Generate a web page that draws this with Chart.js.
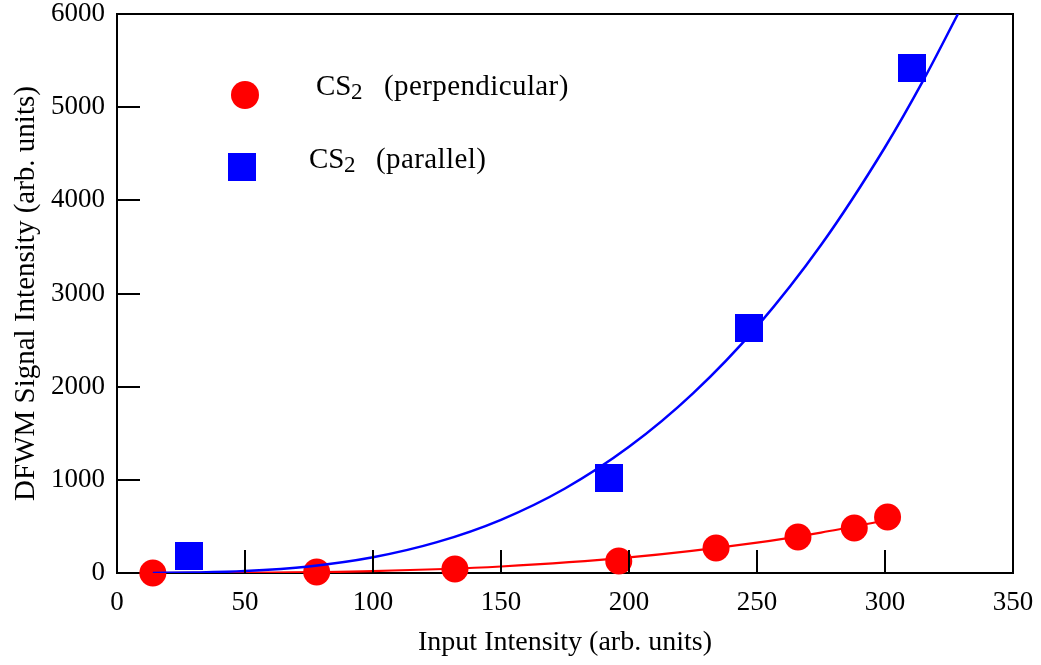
<!DOCTYPE html>
<html>
<head>
<meta charset="utf-8">
<title>DFWM signal vs input intensity</title>
<script src="https://cdn.jsdelivr.net/npm/chart.js@4"></script>
<style>
  html, body { margin: 0; padding: 0; background: #fff; }
  #wrap { width: 1041px; height: 665px; }
</style>
</head>
<body>
<div id="wrap"><canvas id="dfwmChart" width="1041" height="665"></canvas></div>
<script>
// measured points, CS2 perpendicular polarisation
const perpX = [14, 78, 132, 196, 234, 266, 288, 301];
const perpY = [0, 10, 43, 129, 268, 386, 483, 601];

// measured points, CS2 parallel polarisation
const paraX = [28, 192, 247, 310.5];
const paraY = [182, 1019, 2629, 5418];

// fitted curves
const perpFitX = [14, 50, 100, 150, 200, 250, 275, 301];
const perpFitY = [0, 3, 21, 70, 167, 326, 434, 569];
const paraFitX = [14, 30, 50, 75, 100, 125, 150, 175, 200, 225, 250, 275, 300, 315, 328.5];
const paraFitY = [0, 5, 21, 71, 169, 331, 571, 907, 1354, 1928, 2645, 3520, 4570, 5290, 6000];

const xTicks = [0, 50, 100, 150, 200, 250, 300, 350];
const yTicks = [0, 1000, 2000, 3000, 4000, 5000, 6000];

const seriesNames = ['(perpendicular)', '(parallel)'];

const serif = "'Liberation Serif', 'Times New Roman', serif";

function pairs(xs, ys) {
    return xs.map((x, i) => ({ x: x, y: ys[i] }));
}

// solid blue square used as the point style for the parallel data
// (an image keeps the point radius small so the layout isn't padded)
const blueSquare = document.createElement('canvas');
blueSquare.width = 28;
blueSquare.height = 28;
(function () {
    const c = blueSquare.getContext('2d');
    c.fillStyle = '#0000ff';
    c.fillRect(0, 0, 28, 28);
})();

// box around the plot area, drawn under the markers
const framePlugin = {
    id: 'frame',
    beforeDatasetsDraw(chart) {
        const { ctx, chartArea: a } = chart;
        ctx.save();
        ctx.strokeStyle = '#000';
        ctx.lineWidth = 2;
        ctx.strokeRect(a.left, a.top, a.right - a.left, a.bottom - a.top);
        ctx.restore();
    }
};

// inward tick marks on the bottom and left axes
const tickPlugin = {
    id: 'innerTicks',
    afterDatasetsDraw(chart) {
        const { ctx, chartArea: a, scales } = chart;
        const len = 23;
        ctx.save();
        ctx.strokeStyle = '#000';
        ctx.lineWidth = 2;
        ctx.beginPath();
        scales.x.ticks.forEach(t => {
            if (t.value <= scales.x.min || t.value >= scales.x.max) return;
            const px = Math.round(scales.x.getPixelForValue(t.value));
            ctx.moveTo(px, a.bottom);
            ctx.lineTo(px, a.bottom - len);
        });
        scales.y.ticks.forEach(t => {
            if (t.value <= scales.y.min || t.value >= scales.y.max) return;
            const py = Math.round(scales.y.getPixelForValue(t.value));
            ctx.moveTo(a.left, py);
            ctx.lineTo(a.left + len, py);
        });
        ctx.stroke();
        ctx.restore();
    }
};

// legend with subscripted CS2 labels
const legendPlugin = {
    id: 'cs2Legend',
    afterDraw(chart) {
        const ctx = chart.ctx;
        ctx.save();
        ctx.fillStyle = '#ff0000';
        ctx.beginPath();
        ctx.arc(245, 95, 14, 0, Math.PI * 2);
        ctx.fill();
        ctx.drawImage(blueSquare, 228, 153);

        ctx.fillStyle = '#000';
        ctx.textBaseline = 'alphabetic';
        const rows = [
            { x: 316, y: 95, subX: 351, nameX: 384, name: seriesNames[0] },
            { x: 309, y: 168, subX: 344, nameX: 376, name: seriesNames[1] }
        ];
        rows.forEach(r => {
            ctx.letterSpacing = '0px';
            ctx.font = '29px ' + serif;
            ctx.fillText('CS', r.x, r.y);
            ctx.font = '23px ' + serif;
            ctx.fillText('2', r.subX, r.y + 4);
            ctx.font = '29px ' + serif;
            ctx.letterSpacing = '0.4px';
            ctx.fillText(r.name, r.nameX, r.y);
        });
        ctx.restore();
    }
};

const ctx = document.getElementById('dfwmChart').getContext('2d');

new Chart(ctx, {
    type: 'scatter',
    data: {
        datasets: [
            {
                label: 'parallel fit',
                data: pairs(paraFitX, paraFitY),
                showLine: true,
                borderColor: '#0000ff',
                borderWidth: 2.5,
                pointRadius: 0,
                cubicInterpolationMode: 'monotone',
                fill: false
            },
            {
                label: 'perpendicular fit',
                data: pairs(perpFitX, perpFitY),
                showLine: true,
                borderColor: '#ff0000',
                borderWidth: 2.2,
                pointRadius: 0,
                cubicInterpolationMode: 'monotone',
                fill: false
            },
            {
                label: 'CS2 (perpendicular)',
                data: pairs(perpX, perpY),
                pointStyle: 'circle',
                pointRadius: 13.5,
                backgroundColor: '#ff0000',
                borderWidth: 0,
                clip: false
            },
            {
                label: 'CS2 (parallel)',
                data: pairs(paraX, paraY),
                pointStyle: blueSquare,
                pointRadius: 10,
                backgroundColor: '#0000ff',
                borderWidth: 0,
                clip: false
            }
        ]
    },
    options: {
        responsive: false,
        animation: false,
        events: [],
        layout: { padding: { left: 0, top: 14, right: 28, bottom: 0 } },
        plugins: {
            legend: { display: false },
            tooltip: { enabled: false }
        },
        scales: {
            x: {
                type: 'linear',
                min: 0,
                max: 350,
                afterBuildTicks: s => { s.ticks = xTicks.map(v => ({ value: v })); },
                afterFit: s => {
                    s.height = 92;
                    s.paddingLeft = 0;
                    s.paddingRight = 0;
                },
                grid: { display: false, drawTicks: false },
                border: { display: false },
                ticks: {
                    color: '#000',
                    padding: 16,
                    callback: v => String(v),
                    font: { family: serif, size: 27, lineHeight: 1 }
                },
                title: {
                    display: true,
                    text: 'Input Intensity (arb. units)',
                    color: '#000',
                    padding: { top: 0, bottom: 8 },
                    font: { family: serif, size: 28, lineHeight: 1 }
                }
            },
            y: {
                type: 'linear',
                min: 0,
                max: 6000,
                afterBuildTicks: s => { s.ticks = yTicks.map(v => ({ value: v })); },
                afterFit: s => {
                    s.width = 117;
                    s.paddingTop = 0;
                    s.paddingBottom = 0;
                },
                grid: { display: false, drawTicks: false },
                border: { display: false },
                ticks: {
                    color: '#000',
                    padding: 12,
                    callback: v => String(v),
                    font: { family: serif, size: 27, lineHeight: 1 }
                },
                title: {
                    display: true,
                    text: 'DFWM Signal Intensity (arb. units)',
                    color: '#000',
                    padding: { top: 12, bottom: 0 },
                    font: { family: serif, size: 29, lineHeight: 1 }
                }
            }
        }
    },
    plugins: [framePlugin, tickPlugin, legendPlugin]
});
</script>
</body>
</html>
